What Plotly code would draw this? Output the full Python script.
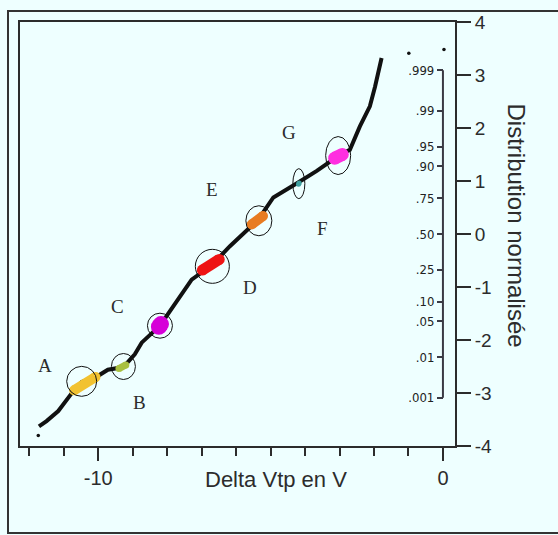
import plotly.graph_objects as go
from statistics import NormalDist

# ---- data ----
curve_x = [-11.72, -11.50, -11.16, -10.87, -10.73, -10.48, -10.04, -9.72, -9.27, -8.94,
           -8.74, -8.21, -7.82, -7.29, -6.71, -6.18, -5.36, -4.92, -4.20, -3.66,
           -3.02, -2.70, -2.41, -2.12, -1.97, -1.78]
curve_z = [-3.63, -3.53, -3.34, -3.08, -2.97, -2.79, -2.69, -2.56, -2.51, -2.27,
           -2.05, -1.73, -1.36, -0.86, -0.59, -0.23, 0.27, 0.69, 0.97, 1.19,
           1.48, 1.59, 2.03, 2.41, 2.78, 3.32]
stray_x = [-11.74, -0.99, 0.03]
stray_z = [-3.80, 3.41, 3.48]

labels = ["A", "B", "C", "D", "E", "F", "G"]
circle_x = [-10.48, -9.27, -8.21, -6.69, -5.34, -4.18, -3.04]
circle_z = [-2.78, -2.50, -1.73, -0.61, 0.25, 0.95, 1.48]
circle_rx = [15, 12, 12.5, 17, 13, 6, 12.5]
circle_ry = [15, 13, 12.5, 17, 15, 15, 19]
label_x = [-11.55, -8.79, -9.43, -5.60, -6.70, -3.48, -4.47]
label_z = [-2.48, -3.18, -1.37, -1.01, 0.84, 0.10, 1.92]

blob_colors = ["#F2C230", "#A8C040", "#D600D8", "#EE1414", "#E87C22", "#3FA0A0", "#FF2EE0"]
blob_x0 = [-10.70, -9.40, -8.24, -6.98, -5.55, -4.19, -3.14]
blob_z0 = [-2.95, -2.54, -1.75, -0.68, 0.18, 0.94, 1.43]
blob_x1 = [-10.08, -9.20, -8.18, -6.49, -5.22, -4.17, -2.92]
blob_z1 = [-2.70, -2.47, -1.70, -0.48, 0.34, 0.96, 1.50]
blob_w = [10, 7, 16, 11, 10, 5, 13]

prob_levels = [0.001, 0.01, 0.05, 0.10, 0.25, 0.50, 0.75, 0.90, 0.95, 0.99, 0.999]
prob_text = [".001", ".01", ".05", ".10", ".25", ".50", ".75", ".90", ".95", ".99", ".999"]
prob_z = [NormalDist().inv_cdf(p) for p in prob_levels]

x_range = [-12.27, 0.35]
z_range = [-4, 4]
x_major = [-10, 0]
z_ticks = [-4, -3, -2, -1, 0, 1, 2, 3, 4]

BG = "#EEFFFF"
INK = "#2c2c2c"
NARROW = "DejaVu Sans Condensed, Liberation Sans Narrow, Liberation Sans, sans-serif"
SANS = "Liberation Sans, Arial, sans-serif"

fig = go.Figure()

# main curve
fig.add_trace(go.Scatter(x=curve_x, y=curve_z, mode="lines",
                         line=dict(color="#111111", width=4), hoverinfo="skip"))

# coloured blobs (segment with rounded ends)
for i in range(len(labels)):
    fig.add_trace(go.Scatter(x=[blob_x0[i], blob_x1[i]], y=[blob_z0[i], blob_z1[i]],
                             mode="lines+markers",
                             line=dict(color=blob_colors[i], width=blob_w[i]),
                             marker=dict(color=blob_colors[i], size=blob_w[i], line=dict(width=0)),
                             hoverinfo="skip"))

# stray dots (on the probability axis, same scale)
fig.add_trace(go.Scatter(x=stray_x, y=stray_z, mode="markers", yaxis="y2",
                         marker=dict(color="#111111", size=3.5), hoverinfo="skip"))

# circles around groups
for i in range(len(labels)):
    fig.add_shape(type="circle", xref="x", yref="y",
                  xsizemode="pixel", ysizemode="pixel",
                  xanchor=circle_x[i], yanchor=circle_z[i],
                  x0=-circle_rx[i], x1=circle_rx[i], y0=-circle_ry[i], y1=circle_ry[i],
                  line=dict(color="#111111", width=1))
    fig.add_annotation(x=label_x[i], y=label_z[i], text=labels[i], showarrow=False,
                       font=dict(family="Liberation Serif, Times New Roman, serif",
                                 size=19, color=INK))

# inner probability axis line
fig.add_shape(type="line", xref="x", yref="y", x0=0, x1=0,
              y0=prob_z[0], y1=prob_z[-1], line=dict(color="#3a3a44", width=2))

# outer frame
fig.add_shape(type="rect", xref="paper", yref="paper",
              x0=-12/435, x1=1.3, y0=-87/424, y1=1 + 11/424,
              line=dict(color="#333333", width=2), layer="below")

pos2 = (0 - x_range[0]) / (x_range[1] - x_range[0])

fig.add_annotation(xref="paper", yref="paper", x=(532 - 20) / 435, y=(446 - 225) / 424,
                   text="Distribution normalisée", textangle=90, showarrow=False,
                   font=dict(family=SANS, size=24, color=INK))
fig.add_annotation(xref="paper", yref="paper", x=(276 - 20) / 435, y=(446 - 494) / 424,
                   text="Delta Vtp en V", showarrow=False,
                   font=dict(family=SANS, size=22, color=INK))

fig.update_layout(
    width=558, height=535,
    margin=dict(l=20, r=103, t=22, b=89),
    paper_bgcolor=BG, plot_bgcolor=BG,
    showlegend=False,
    xaxis=dict(range=x_range, tickvals=x_major, ticktext=["-10", "0"],
               ticks="outside", ticklen=13, tickwidth=2, tickcolor=INK,
               minor=dict(tickmode="linear", dtick=1, tick0=0, ticks="outside",
                          ticklen=8, tickwidth=2, tickcolor=INK),
               showline=True, mirror=True, linecolor=INK, linewidth=2,
               showgrid=False, zeroline=False,
               tickfont=dict(family=SANS, size=20, color=INK)),
    yaxis=dict(range=z_range, side="right", tickvals=z_ticks,
               ticktext=[str(v) for v in z_ticks],
               ticks="outside", ticklen=14, tickwidth=2, tickcolor=INK,
               showline=True, mirror=True, linecolor=INK, linewidth=2,
               showgrid=False, zeroline=False,
               tickfont=dict(family=SANS, size=19, color=INK)),
    yaxis2=dict(range=z_range, overlaying="y", anchor="free", position=pos2, side="left",
                tickvals=prob_z, ticktext=prob_text, ticks="outside", ticklen=6,
                tickwidth=2, tickcolor="#3a3a44", showline=False, showgrid=False,
                zeroline=False,
                tickfont=dict(family=NARROW, size=13, color="#222222")),
)

fig.write_html("out.html", config={"displayModeBar": False},
               post_script="document.body.style.margin='0';"
                           "document.body.style.background='" + BG + "';")
